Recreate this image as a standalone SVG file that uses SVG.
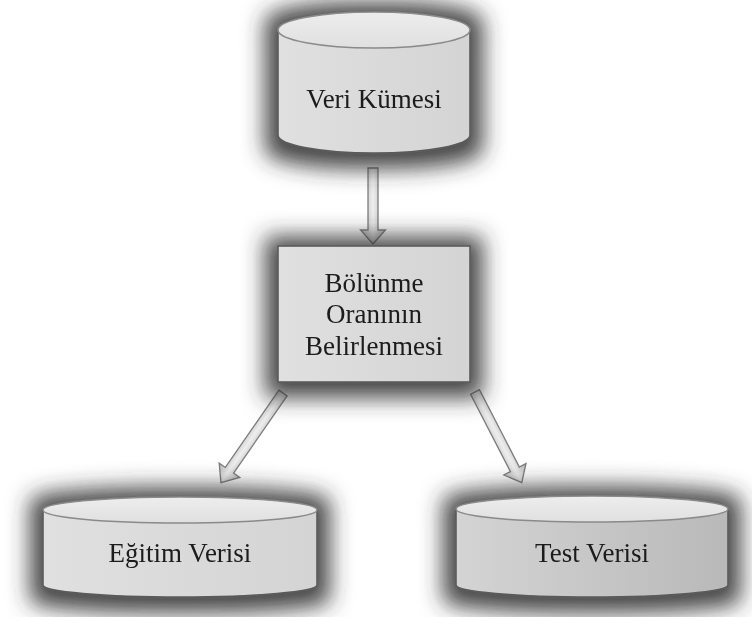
<svg xmlns="http://www.w3.org/2000/svg" width="752" height="617" viewBox="0 0 752 617">
  <defs>
    <!-- soft dark halo drawn behind every node -->
    <filter id="halo" x="-50%" y="-80%" width="200%" height="260%">
      <feMorphology in="SourceAlpha" operator="dilate" radius="12" result="grown"/>
      <feGaussianBlur in="grown" stdDeviation="11" result="blur"/>
      <feOffset in="blur" dy="3" result="off"/>
      <feFlood flood-color="#2e2e2e" flood-opacity="0.88"/>
      <feComposite in2="off" operator="in" result="shadow"/>
      <feMerge>
        <feMergeNode in="shadow"/>
        <feMergeNode in="SourceGraphic"/>
      </feMerge>
    </filter>
    <linearGradient id="body" x1="0" y1="0" x2="1" y2="0">
      <stop offset="0" stop-color="#e0e0e0"/>
      <stop offset="1" stop-color="#d4d4d4"/>
    </linearGradient>
    <linearGradient id="bodyDark" x1="0" y1="0" x2="1" y2="0">
      <stop offset="0" stop-color="#d4d4d4"/>
      <stop offset="1" stop-color="#b9b9b9"/>
    </linearGradient>
    <linearGradient id="lid" x1="0" y1="0" x2="0" y2="1">
      <stop offset="0" stop-color="#ededed"/>
      <stop offset="1" stop-color="#e0e0e0"/>
    </linearGradient>
    <linearGradient id="shaft" x1="0" y1="0" x2="1" y2="0">
      <stop offset="0" stop-color="#b5b5b5"/>
      <stop offset="0.5" stop-color="#eeeeee"/>
      <stop offset="1" stop-color="#b5b5b5"/>
    </linearGradient>
  </defs>
  <style>
    .shape { stroke: #5a5a5a; stroke-width: 1.6; }
    .lid { fill: url(#lid); stroke: #8a8a8a; stroke-width: 1.6; }
    .label { font-family: "Liberation Serif", "Times New Roman", serif; font-size: 27px; fill: #1a1a1a; text-anchor: middle; }
    .arrow { fill: url(#shaft); stroke: #7d7d7d; stroke-width: 1.3; stroke-linejoin: miter; }
  </style>

  <rect width="752" height="617" fill="#ffffff"/>

  <!-- connectors -->
  <g id="connectors">
    <!-- dataset to split ratio -->
    <g transform="translate(373,168)">
      <polygon class="arrow" points="-5,0 5,0 5,62 12.5,62 0,76 -12.5,62 -5,62"/>
    </g>
    <!-- split ratio to training data -->
    <g transform="translate(283,393) rotate(34.7)">
      <polygon class="arrow" points="-5,0 5,0 5,94 12.5,94 0,109 -12.5,94 -5,94"/>
    </g>
    <!-- split ratio to test data -->
    <g transform="translate(475,392) rotate(-27.3)">
      <polygon class="arrow" points="-5,0 5,0 5,87 12.5,87 0,102 -12.5,87 -5,87"/>
    </g>
  </g>

  <!-- dataset -->
  <g id="veri-kumesi" filter="url(#halo)">
    <path class="shape" fill="url(#body)" d="M278,30 A96,18 0 0 1 470,30 L470,135 A96,18 0 0 1 278,135 Z"/>
    <ellipse class="lid" cx="374" cy="30" rx="96" ry="18"/>
    <text class="label" x="374" y="108">Veri Kümesi</text>
  </g>

  <!-- split ratio step -->
  <g id="bolunme-orani" filter="url(#halo)">
    <rect class="shape" fill="url(#body)" x="278" y="246" width="192" height="136"/>
    <text class="label" x="374" y="292">Bölünme</text>
    <text class="label" x="374" y="323">Oranının</text>
    <text class="label" x="374" y="355">Belirlenmesi</text>
  </g>

  <!-- training data -->
  <g id="egitim-verisi" filter="url(#halo)">
    <path class="shape" fill="url(#body)" d="M43,510 A137,13 0 0 1 317,510 L317,585 A137,12 0 0 1 43,585 Z"/>
    <ellipse class="lid" cx="180" cy="510" rx="137" ry="13"/>
    <text class="label" x="180" y="562">Eğitim Verisi</text>
  </g>

  <!-- test data -->
  <g id="test-verisi" filter="url(#halo)">
    <path class="shape" fill="url(#bodyDark)" d="M456,509 A136,13 0 0 1 728,509 L728,585 A136,12 0 0 1 456,585 Z"/>
    <ellipse class="lid" cx="592" cy="509" rx="136" ry="13"/>
    <text class="label" x="592" y="562">Test Verisi</text>
  </g>
</svg>
